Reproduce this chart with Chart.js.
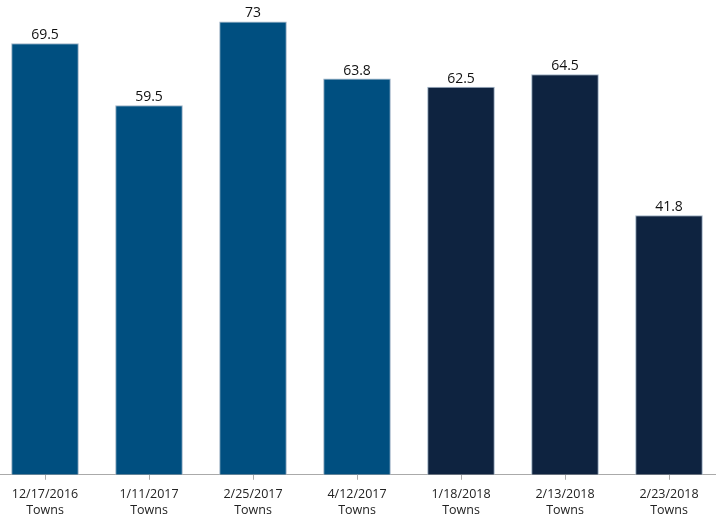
<!DOCTYPE html>
<html>
<head>
<meta charset="utf-8">
<script src="https://cdn.jsdelivr.net/npm/chart.js@4"></script>
<style>
html,body{margin:0;padding:0;background:#fff;overflow:hidden;}
#wrap{position:absolute;left:-7px;top:0;width:728px;height:525px;}
</style>
</head>
<body>
<div id="wrap"><canvas id="c"></canvas></div>
<script>
const dates = ["12/17/2016","1/11/2017","2/25/2017","4/12/2017","1/18/2018","2/13/2018","2/23/2018"];
const subLabel = "Towns";
const values = [69.5, 59.5, 73, 63.8, 62.5, 64.5, 41.8];
const barColors = ["#004f80","#004f80","#004f80","#004f80","#0e2340","#0e2340","#0e2340"];

const valueLabels = {
  id: 'valueLabels',
  afterDatasetsDraw(chart) {
    const ctx = chart.ctx;
    const meta = chart.getDatasetMeta(0);
    ctx.save();
    ctx.font = '14px "Open Sans"';
    ctx.fillStyle = '#111';
    ctx.textAlign = 'center';
    ctx.textBaseline = 'bottom';
    meta.data.forEach((bar, i) => {
      ctx.fillText(String(values[i]), bar.x, bar.y - 1);
    });
    ctx.restore();
  }
};

new Chart(document.getElementById('c'), {
  type: 'bar',
  data: {
    labels: dates.map(d => [d, subLabel]),
    datasets: [{
      data: values,
      backgroundColor: barColors,
      borderColor: "#9fb3c6",
      borderWidth: 1,
      barPercentage: 1,
      categoryPercentage: 0.65
    }]
  },
  options: {
    responsive: true,
    maintainAspectRatio: false,
    animation: false,
    layout: {padding: {top: 0, bottom: 0, left: 0, right: 0}},
    plugins: {legend: {display: false}, tooltip: {enabled: false}},
    scales: {
      y: {display: false, min: 0, max: 76.45},
      x: {
        grid: {display: true, drawOnChartArea: false, drawTicks: true, tickLength: 5, offset: false, color: '#aaa'},
        border: {display: true, color: '#aaa', width: 1},
        ticks: {font: {family: '"Open Sans"', size: 12.5, lineHeight: 1.25}, color: '#222', padding: 7, maxRotation: 0, autoSkip: false}
      }
    }
  },
  plugins: [valueLabels]
});
</script>
</body>
</html>
